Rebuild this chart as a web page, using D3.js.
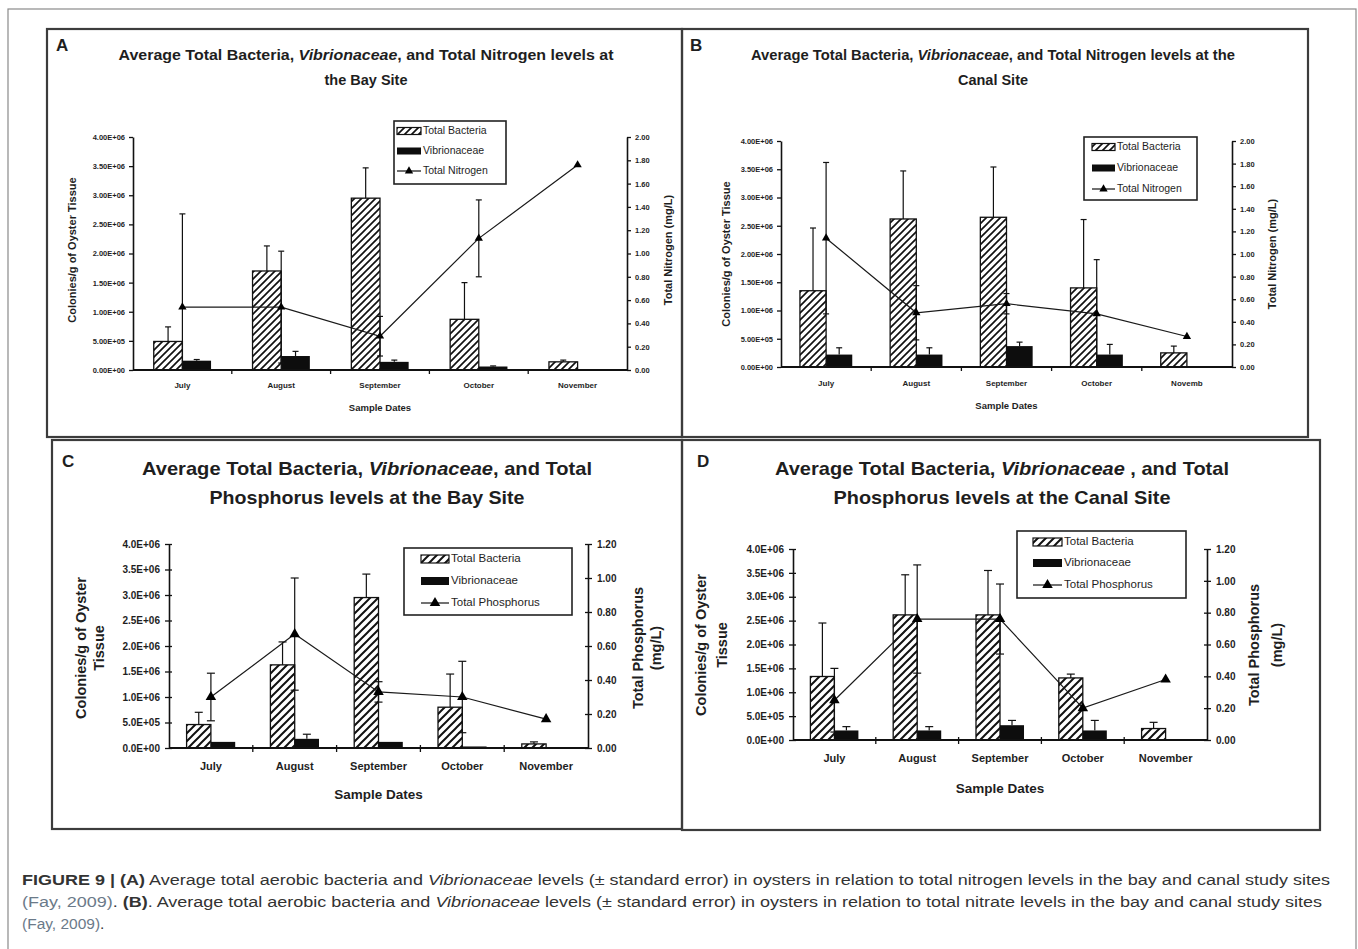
<!DOCTYPE html>
<html>
<head>
<meta charset="utf-8">
<script src="https://cdn.jsdelivr.net/npm/d3@7"></script>
<style>
body{margin:0;background:#fff}
svg{display:block}
text{font-family:"Liberation Sans",Arial,sans-serif;fill:#1e1e1e}
</style>
</head>
<body>
<script>
// ---- data ----
const months = ["July", "August", "September", "October", "November"];
const monthLabelsB = ["July", "August", "September", "October", "Novemb"];

const bacteriaTicks = [0, 5e5, 1e6, 1.5e6, 2e6, 2.5e6, 3e6, 3.5e6, 4e6];
const nitrogenTicks = [0, 0.2, 0.4, 0.6, 0.8, 1.0, 1.2, 1.4, 1.6, 1.8, 2.0];
const phosphorusTicks = [0, 0.2, 0.4, 0.6, 0.8, 1.0, 1.2];

// A - bay site, nitrogen
const bayN_tb = [0.49e6, 1.70e6, 2.95e6, 0.87e6, 0.14e6];
const bayN_tbErr = [0.25e6, 0.43e6, 0.52e6, 0.63e6, 0.03e6];
const bayN_vib = [0.16e6, 0.24e6, 0.14e6, 0.06e6, 0];
const bayN_vibErr = [0.02e6, 0.08e6, 0.03e6, 0.01e6, 0];
const bayN_nitrogen = [0.54, 0.54, 0.29, 1.13, 1.76];
const bayN_nitrogenErr = [0.80, 0.48, 0.17, 0.33, 0];

// B - canal site, nitrogen
const canalN_tb = [1.35e6, 2.62e6, 2.65e6, 1.40e6, 0.25e6];
const canalN_tbErr = [1.11e6, 0.85e6, 0.89e6, 1.21e6, 0.12e6];
const canalN_vib = [0.22e6, 0.22e6, 0.37e6, 0.22e6, 0];
const canalN_vibErr = [0.12e6, 0.12e6, 0.07e6, 0.18e6, 0];
const canalN_nitrogen = [1.14, 0.48, 0.56, 0.47, 0.27];
const canalN_nitrogenErr = [0.67, 0.24, 0.09, 0.48, 0];

// C - bay site, phosphorus
const bayP_tb = [0.46e6, 1.63e6, 2.95e6, 0.80e6, 0.08e6];
const bayP_tbErr = [0.24e6, 0.45e6, 0.46e6, 0.65e6, 0.04e6];
const bayP_vib = [0.12e6, 0.18e6, 0.12e6, 0.03e6, 0];
const bayP_vibErr = [0, 0.09e6, 0, 0, 0];
const bayP_phosphorus = [0.30, 0.67, 0.33, 0.30, 0.17];
const bayP_phosphorusErr = [0.14, 0.33, 0.06, 0.21, 0];

// D - canal site, phosphorus
const canalP_tb = [1.33e6, 2.62e6, 2.62e6, 1.30e6, 0.24e6];
const canalP_tbErr = [1.12e6, 0.84e6, 0.93e6, 0.08e6, 0.13e6];
const canalP_vib = [0.20e6, 0.20e6, 0.31e6, 0.20e6, 0];
const canalP_vibErr = [0.08e6, 0.08e6, 0.10e6, 0.21e6, 0];
const canalP_phosphorus = [0.25, 0.76, 0.76, 0.20, 0.38];
const canalP_phosphorusErr = [0.20, 0.34, 0.22, 0, 0];

const W = 1358, H = 949;
const svg = d3.select("body").append("svg").attr("width", W).attr("height", H);

// outer frame of the figure
svg.append("rect").attr("x", 8).attr("y", 9).attr("width", 1348).attr("height", 960)
  .attr("fill", "none").attr("stroke", "#8a8a8a").attr("stroke-width", 1.2);

const defs = svg.append("defs");
function hatch(id, s, w) {
  const p = defs.append("pattern").attr("id", id).attr("patternUnits", "userSpaceOnUse")
    .attr("width", s).attr("height", s);
  p.append("rect").attr("width", s).attr("height", s).attr("fill", "#fff");
  p.append("path")
    .attr("d", `M${-s/4},${s/4}L${s/4},${-s/4}M0,${s}L${s},0M${s*3/4},${s*5/4}L${s*5/4},${s*3/4}`)
    .attr("stroke", "#111").attr("stroke-width", w);
}
hatch("hatchS", 7, 1.7);
hatch("hatchL", 8, 2);

// 4.00E+06 style labels
function sci(v, dp) {
  if (v === 0) return (0).toFixed(dp) + "E+00";
  const e = Math.floor(Math.log10(v) + 1e-9);
  return (v / Math.pow(10, e)).toFixed(dp) + "E+" + String(e).padStart(2, "0");
}

function titleLine(g, x, y, parts, size, weight, len) {
  const t = g.append("text").attr("x", x).attr("y", y).attr("text-anchor", "middle")
    .attr("font-size", size).attr("font-weight", weight);
  parts.forEach(p => t.append("tspan").text(p[0]).attr("font-style", p[1] ? "italic" : null));
  if (len) t.attr("textLength", len).attr("lengthAdjust", "spacingAndGlyphs");
}

function vText(g, x, y, str, size, weight) {
  g.append("text").attr("transform", `translate(${x},${y}) rotate(-90)`)
    .attr("text-anchor", "middle").attr("dominant-baseline", "middle")
    .attr("font-size", size).attr("font-weight", weight).text(str);
}

function drawPanel(c) {
  const g = svg.append("g");
  const [fx0, fy0, fx1, fy1] = c.frame;
  g.append("rect").attr("x", fx0).attr("y", fy0).attr("width", fx1 - fx0).attr("height", fy1 - fy0)
    .attr("fill", "none").attr("stroke", "#3c3c3c").attr("stroke-width", 2.2);

  g.append("text").attr("x", c.letter[0]).attr("y", c.letter[1]).attr("font-size", 17)
    .attr("font-weight", "bold").attr("fill", "#000").text(c.letterText);

  c.title.forEach((ln, i) => titleLine(g, c.titleX, c.titleY[i], ln.parts, c.titleSize, "bold", ln.len));

  const x = d3.scaleBand().domain(months).range([c.x0, c.x1]);
  const y = d3.scaleLinear().domain([0, 4e6]).range([c.yBot, c.yTop]);
  const yr = d3.scaleLinear().domain([0, c.rMax]).range([c.yBot, c.yTop]);
  const bw = x.bandwidth() * 0.29;
  const cx = d => x(d) + x.bandwidth() / 2;
  const s = c.st;

  // bars
  g.selectAll(".tb").data(months).join("rect")
    .attr("x", d => cx(d) - bw).attr("y", (d, i) => y(c.tb[i]))
    .attr("width", bw).attr("height", (d, i) => y(0) - y(c.tb[i]))
    .attr("fill", `url(#${s.hatch})`).attr("stroke", "#111").attr("stroke-width", 1.3);
  g.selectAll(".vib").data(months).join("rect")
    .attr("x", d => cx(d)).attr("y", (d, i) => y(c.vib[i]))
    .attr("width", bw).attr("height", (d, i) => y(0) - y(c.vib[i]))
    .attr("fill", "#0d0d0d");

  // error bars: plus side for bars, both sides for the nutrient line
  function errs(xs, vals, er, sc, both) {
    vals.forEach((v, i) => {
      if (!er[i]) return;
      const top = sc(v + er[i]);
      const bot = both ? sc(Math.max(0, v - er[i])) : sc(v);
      g.append("line").attr("x1", xs[i]).attr("x2", xs[i]).attr("y1", bot).attr("y2", top)
        .attr("stroke", "#111").attr("stroke-width", 1.2);
      g.append("line").attr("x1", xs[i] - s.cap).attr("x2", xs[i] + s.cap).attr("y1", top).attr("y2", top)
        .attr("stroke", "#111").attr("stroke-width", 1.2);
      if (both && v - er[i] > 0)
        g.append("line").attr("x1", xs[i] - s.cap).attr("x2", xs[i] + s.cap).attr("y1", bot).attr("y2", bot)
          .attr("stroke", "#111").attr("stroke-width", 1.2);
    });
  }
  errs(months.map(d => cx(d) - bw / 2), c.tb, c.tbErr, y, false);
  errs(months.map(d => cx(d) + bw / 2), c.vib, c.vibErr, y, false);

  // nutrient line
  const line = d3.line().x((d, i) => cx(months[i])).y(d => yr(d));
  g.append("path").datum(c.line).attr("d", line).attr("fill", "none")
    .attr("stroke", "#1a1a1a").attr("stroke-width", 1.2);
  errs(months.map(cx), c.line, c.lineErr, yr, true);
  g.selectAll(".mk").data(c.line).join("path")
    .attr("transform", (d, i) => `translate(${cx(months[i])},${yr(d)})`)
    .attr("d", d3.symbol(d3.symbolTriangle, s.marker)).attr("fill", "#000");

  // left and right axes
  const la = g.append("g").attr("transform", `translate(${c.x0},0)`)
    .call(d3.axisLeft(y).tickValues(bacteriaTicks).tickFormat(d => sci(d, s.dp))
      .tickSize(s.tick).tickSizeOuter(0).tickPadding(s.pad));
  const ra = g.append("g").attr("transform", `translate(${c.x1},0)`)
    .call(d3.axisRight(yr).tickValues(c.rTicks).tickFormat(d3.format(".2f"))
      .tickSize(s.tick).tickSizeOuter(0).tickPadding(s.pad));
  [la, ra].forEach(a => {
    a.select(".domain").attr("stroke", "#111").attr("stroke-width", 1.6);
    a.selectAll(".tick line").attr("stroke", "#111").attr("stroke-width", 1.3);
    a.selectAll(".tick text").attr("font-size", s.tickFont).attr("font-weight", "bold")
      .attr("font-family", '"Liberation Sans",Arial,sans-serif').attr("fill", "#2a2a2a");
  });
  la.selectAll(".tick line").attr("x1", s.cross);
  ra.selectAll(".tick line").attr("x1", -s.cross);

  // category axis
  g.append("line").attr("x1", c.x0).attr("x2", c.x1).attr("y1", y(0)).attr("y2", y(0))
    .attr("stroke", "#111").attr("stroke-width", 1.8);
  months.slice(1).forEach(d => g.append("line").attr("x1", x(d)).attr("x2", x(d))
    .attr("y1", y(0) - s.cross).attr("y2", y(0) + s.tick).attr("stroke", "#111").attr("stroke-width", 1.3));
  months.forEach((d, i) => g.append("text").attr("x", cx(d)).attr("y", c.catY).attr("text-anchor", "middle")
    .attr("font-size", s.catFont).attr("font-weight", "bold").attr("fill", "#2a2a2a").text(c.cats[i]));

  // axis titles
  g.append("text").attr("x", (c.x0 + c.x1) / 2).attr("y", c.xTitleY).attr("text-anchor", "middle")
    .attr("font-size", s.xFont).attr("font-weight", "bold").text("Sample Dates");
  c.leftTitle.forEach(t => vText(g, t[0], c.vMid, t[1], s.vFont, "bold"));
  c.rightTitle.forEach(t => vText(g, t[0], c.vMid, t[1], s.vFont, "bold"));

  // legend
  const L = c.legend;
  g.append("rect").attr("x", L.x0).attr("y", L.y0).attr("width", L.x1 - L.x0).attr("height", L.y1 - L.y0)
    .attr("fill", "#fff").attr("stroke", "#222").attr("stroke-width", 1.6);
  const sh = s.swH;
  g.append("rect").attr("x", L.sx0).attr("y", L.rows[0] - sh / 2).attr("width", L.sx1 - L.sx0).attr("height", sh)
    .attr("fill", `url(#${s.hatch})`).attr("stroke", "#111").attr("stroke-width", 1.2);
  g.append("rect").attr("x", L.sx0).attr("y", L.rows[1] - sh / 2).attr("width", L.sx1 - L.sx0).attr("height", sh)
    .attr("fill", "#0d0d0d");
  g.append("line").attr("x1", L.sx0).attr("x2", L.sx1).attr("y1", L.rows[2]).attr("y2", L.rows[2])
    .attr("stroke", "#111").attr("stroke-width", 1.2);
  g.append("path").attr("transform", `translate(${(L.sx0 + L.sx1) / 2},${L.rows[2]})`)
    .attr("d", d3.symbol(d3.symbolTriangle, s.marker)).attr("fill", "#000");
  c.legendLabels.forEach((t, i) => g.append("text").attr("x", L.sx1 + 2).attr("y", L.rows[i])
    .attr("dominant-baseline", "middle").attr("font-size", s.legFont).text(t));
}

const small = {hatch: "hatchS", cap: 3, marker: 30, dp: 2, tick: 4, cross: 0, pad: 4,
  tickFont: 7.5, catFont: 8, xFont: 9.5, vFont: 11, legFont: 10.5, swH: 7};
const large = {hatch: "hatchL", cap: 4, marker: 48, dp: 1, tick: 4, cross: 3, pad: 5,
  tickFont: 10, catFont: 11, xFont: 13.5, vFont: 14.5, legFont: 11.5, swH: 8};

const titleN = site => [
  {parts: [["Average Total Bacteria, "], ["Vibrionaceae", true], [", and Total Nitrogen levels at" + (site === "Canal" ? " the" : "")]],
   len: site === "Canal" ? 484 : 495},
  {parts: [[site === "Canal" ? "Canal Site" : "the Bay Site"]]}
];
const titleP = site => [
  {parts: [["Average Total Bacteria, "], ["Vibrionaceae", true], [site === "Canal" ? " , and Total" : ", and Total"]], len: site === "Canal" ? 454 : 450},
  {parts: [["Phosphorus levels at the " + site + " Site"]], len: site === "Canal" ? 337 : 315}
];

drawPanel({
  frame: [47, 29, 682, 437], letter: [56, 51], letterText: "A",
  title: titleN("Bay"), titleX: 366, titleY: [60, 85], titleSize: 14.5,
  x0: 133, x1: 627, yTop: 137, yBot: 370, rMax: 2.0, rTicks: nitrogenTicks,
  tb: bayN_tb, tbErr: bayN_tbErr, vib: bayN_vib, vibErr: bayN_vibErr, line: bayN_nitrogen, lineErr: bayN_nitrogenErr,
  cats: months, catY: 388, xTitleY: 411, vMid: 250,
  leftTitle: [[73, "Colonies/g of Oyster Tissue"]], rightTitle: [[669, "Total Nitrogen (mg/L)"]],
  legend: {x0: 394, y0: 121, x1: 506, y1: 184, sx0: 397, sx1: 421, rows: [131, 151, 171]},
  legendLabels: ["Total Bacteria", "Vibrionaceae", "Total Nitrogen"], st: small
});

drawPanel({
  frame: [682, 29, 1308, 437], letter: [690, 51], letterText: "B",
  title: titleN("Canal"), titleX: 993, titleY: [60, 85], titleSize: 14.5,
  x0: 781, x1: 1232, yTop: 141, yBot: 367, rMax: 2.0, rTicks: nitrogenTicks,
  tb: canalN_tb, tbErr: canalN_tbErr, vib: canalN_vib, vibErr: canalN_vibErr, line: canalN_nitrogen, lineErr: canalN_nitrogenErr,
  cats: monthLabelsB, catY: 386, xTitleY: 409, vMid: 254,
  leftTitle: [[727, "Colonies/g of Oyster Tissue"]], rightTitle: [[1273, "Total Nitrogen (mg/L)"]],
  legend: {x0: 1084, y0: 137, x1: 1197, y1: 200, sx0: 1092, sx1: 1115, rows: [147, 168, 189]},
  legendLabels: ["Total Bacteria", "Vibrionaceae", "Total Nitrogen"], st: small
});

drawPanel({
  frame: [52, 440, 682, 829], letter: [62, 467], letterText: "C",
  title: titleP("Bay"), titleX: 367, titleY: [475, 504], titleSize: 19,
  x0: 169, x1: 588, yTop: 544, yBot: 748, rMax: 1.2, rTicks: phosphorusTicks,
  tb: bayP_tb, tbErr: bayP_tbErr, vib: bayP_vib, vibErr: bayP_vibErr, line: bayP_phosphorus, lineErr: bayP_phosphorusErr,
  cats: months, catY: 770, xTitleY: 799, vMid: 648,
  leftTitle: [[82, "Colonies/g of Oyster"], [100, "Tissue"]],
  rightTitle: [[639, "Total Phosphorus"], [657, "(mg/L)"]],
  legend: {x0: 404, y0: 548, x1: 572, y1: 615, sx0: 421, sx1: 449, rows: [559, 581, 603]},
  legendLabels: ["Total Bacteria", "Vibrionaceae", "Total Phosphorus"], st: large
});

drawPanel({
  frame: [682, 440, 1320, 830], letter: [697, 467], letterText: "D",
  title: titleP("Canal"), titleX: 1002, titleY: [475, 504], titleSize: 19,
  x0: 793, x1: 1207, yTop: 549, yBot: 740, rMax: 1.2, rTicks: phosphorusTicks,
  tb: canalP_tb, tbErr: canalP_tbErr, vib: canalP_vib, vibErr: canalP_vibErr, line: canalP_phosphorus, lineErr: canalP_phosphorusErr,
  cats: months, catY: 762, xTitleY: 793, vMid: 645,
  leftTitle: [[702, "Colonies/g of Oyster"], [723, "Tissue"]],
  rightTitle: [[1255, "Total Phosphorus"], [1278, "(mg/L)"]],
  legend: {x0: 1017, y0: 531, x1: 1186, y1: 598, sx0: 1033, sx1: 1062, rows: [542, 563, 585]},
  legendLabels: ["Total Bacteria", "Vibrionaceae", "Total Phosphorus"], st: large
});

// caption
const capLines = [
  {y: 885, len: 1308, parts: [
    ["FIGURE 9 | (A)", "b"], [" Average total aerobic bacteria and "], ["Vibrionaceae", "i"],
    [" levels (\u00b1 standard error) in oysters in relation to total nitrogen levels in the bay and canal study sites"]]},
  {y: 907, len: 1300, parts: [
    ["(Fay, 2009)", "c"], [". "], ["(B)", "b"], [". Average total aerobic bacteria and "], ["Vibrionaceae", "i"],
    [" levels (\u00b1 standard error) in oysters in relation to total nitrate levels in the bay and canal study sites"]]},
  {y: 929, parts: [["(Fay, 2009)", "c"], ["."]]}
];
capLines.forEach(l => {
  const t = svg.append("text").attr("x", 22).attr("y", l.y).attr("font-size", 15.5);
  l.parts.forEach(p => t.append("tspan").text(p[0])
    .attr("font-weight", p[1] === "b" ? "bold" : null)
    .attr("font-style", p[1] === "i" ? "italic" : null)
    .style("fill", p[1] === "c" ? "#6b7a89" : "#333"));
  if (l.len) t.attr("textLength", l.len).attr("lengthAdjust", "spacingAndGlyphs");
});
</script>
</body>
</html>
